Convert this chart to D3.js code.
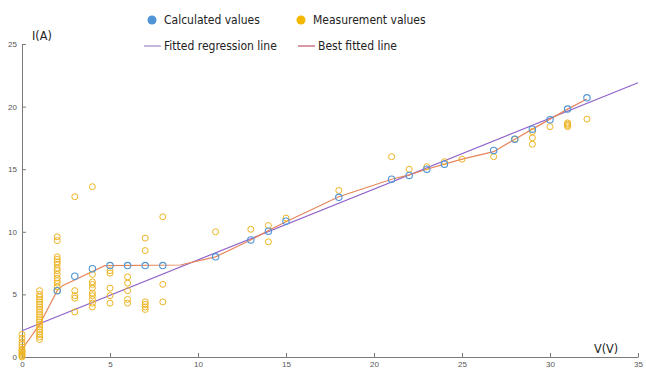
<!DOCTYPE html>
<html>
<head>
<meta charset="utf-8">
<script src="https://cdn.jsdelivr.net/npm/d3@7"></script>
<style>
  body { margin: 0; background: #fff; }
  svg { display: block; }
  .axis path, .axis line { stroke: #7a7a7a; }
  .axis text { fill: #555; font-family: "Liberation Sans", Arial, sans-serif; font-size: 8px; }
  .lbl { font-family: "Liberation Sans Narrow", "DejaVu Sans Condensed", "Liberation Sans", sans-serif; fill: #222; }
</style>
</head>
<body>
<div id="chart"></div>
<script>
// calculated values (blue)
var calcV = [2, 3, 4, 5, 6, 7, 8, 11, 13, 14, 15, 18, 21, 22, 23, 24, 26.8, 28, 29, 30, 31, 32.1];
var calcI = [5.3, 6.45, 7.05, 7.3, 7.3, 7.3, 7.3, 8.0, 9.35, 10.05, 10.85, 12.75, 14.2, 14.5, 15.0, 15.4, 16.5, 17.4, 18.2, 18.95, 19.8, 20.7];

// measurement values (yellow), grouped by voltage
var measV = [0, 1, 2, 3, 4, 5, 6, 7, 8, 11, 13, 14, 15, 18, 21, 22, 23, 24, 25, 26.8, 28, 29, 30, 31, 32.1];
var measI = [
    [0, 0.1, 0.2, 0.3, 0.4, 0.5, 0.6, 0.8, 1.0, 1.2, 1.5, 1.8],
    [1.4, 1.6, 1.8, 2.0, 2.2, 2.4, 2.6, 2.8, 3.0, 3.2, 3.4, 3.6, 3.8, 4.0, 4.2, 4.4, 4.6, 4.8, 5.0, 5.3],
    [5.3, 5.6, 5.9, 6.1, 6.3, 6.6, 6.9, 7.1, 7.4, 7.6, 7.8, 8.0, 9.3, 9.6],
    [3.6, 4.7, 4.9, 5.3, 12.8],
    [4.0, 4.3, 4.6, 4.9, 5.1, 5.5, 5.8, 6.0, 6.6, 13.6],
    [4.3, 4.9, 5.5, 6.7, 6.9],
    [4.3, 4.6, 5.3, 5.9, 6.4],
    [3.8, 4.0, 4.2, 4.4, 8.5, 9.5],
    [4.4, 5.8, 11.2],
    [10.0],
    [10.2],
    [9.2, 10.5],
    [11.1],
    [13.3],
    [16.0],
    [15.0],
    [15.2],
    [15.6],
    [15.8],
    [16.0],
    [17.4],
    [17.0, 17.5, 18.0],
    [18.4],
    [18.4, 18.5, 18.6, 18.7],
    [19.0]
];

// best fitted line (orange)
var bestV = [0, 1, 2, 2.3, 4.7, 9, 11, 13, 14, 15, 18, 21, 22, 23, 24, 25, 26.8, 28, 29, 30, 31, 32.1];
var bestI = [0.6, 2.6, 5.3, 5.7, 7.3, 7.35, 8.0, 9.35, 10.1, 10.8, 12.8, 14.2, 14.55, 15.0, 15.4, 15.8, 16.4, 17.4, 18.2, 19.0, 19.8, 20.6];

// fitted regression line (purple), end points
var regV = [0, 35];
var regI = [2.1, 21.9];

var xTicks = [0, 5, 10, 15, 20, 25, 30, 35];
var yTicks = [0, 5, 10, 15, 20, 25];

var w = 646, h = 370;
var svg = d3.select('#chart').append('svg').attr('width', w).attr('height', h);

var x = d3.scaleLinear().domain([0, 35]).range([22, 638]);
var y = d3.scaleLinear().domain([0, 25]).range([357, 44]);

var blue = '#4f95d6', yellow = '#eeb422', purple = '#8f62c9', orange = '#e6865c';

svg.append('g').attr('class', 'axis')
    .attr('transform', 'translate(0,' + y(0) + ')')
    .call(d3.axisBottom(x).tickValues(xTicks).tickSize(-4).tickSizeOuter(0).tickPadding(4.5));

svg.append('g').attr('class', 'axis')
    .attr('transform', 'translate(' + x(0) + ',0)')
    .call(d3.axisLeft(y).tickValues(yTicks).tickSize(-4).tickSizeOuter(0).tickPadding(5));

var line = d3.line().x(function (d) { return x(d[0]); }).y(function (d) { return y(d[1]); });

svg.append('path')
    .datum(d3.zip(regV, regI))
    .attr('d', line).attr('fill', 'none').attr('stroke', purple).attr('stroke-width', 1.2);

svg.append('path')
    .datum(d3.zip(bestV, bestI))
    .attr('d', line).attr('fill', 'none').attr('stroke', orange).attr('stroke-width', 1.2);

var meas = [];
measV.forEach(function (v, i) {
    measI[i].forEach(function (c) { meas.push([v, c]); });
});

svg.append('g').selectAll('circle')
    .data(meas).enter().append('circle')
    .attr('cx', function (d) { return x(d[0]); })
    .attr('cy', function (d) { return y(d[1]); })
    .attr('r', 3)
    .attr('fill', 'none').attr('stroke', yellow).attr('stroke-width', 1);

svg.append('g').selectAll('circle')
    .data(d3.zip(calcV, calcI)).enter().append('circle')
    .attr('cx', function (d) { return x(d[0]); })
    .attr('cy', function (d) { return y(d[1]); })
    .attr('r', 3.2)
    .attr('fill', 'none').attr('stroke', blue).attr('stroke-width', 1.1);

// axis labels
svg.append('text').attr('class', 'lbl').attr('x', 32).attr('y', 40).style('font-size', '12.5px').text('I(A)');
svg.append('text').attr('class', 'lbl').attr('x', 594).attr('y', 353).style('font-size', '12.5px').text('V(V)');

// legend
var legend = [
    { label: 'Calculated values', type: 'dot', color: blue, x: 152, y: 20 },
    { label: 'Measurement values', type: 'dot', color: '#f5b800', x: 301, y: 20 },
    { label: 'Fitted regression line', type: 'line', color: '#9c88c4', x: 144, y: 46 },
    { label: 'Best fitted line', type: 'line', color: '#c0566e', x: 298, y: 46 }
];

var lg = svg.selectAll('.legend').data(legend).enter().append('g').attr('class', 'legend');
lg.filter(function (d) { return d.type === 'dot'; })
    .append('circle')
    .attr('cx', function (d) { return d.x; }).attr('cy', function (d) { return d.y; })
    .attr('r', 4.5).attr('fill', function (d) { return d.color; });
lg.filter(function (d) { return d.type === 'line'; })
    .append('line')
    .attr('x1', function (d) { return d.x; }).attr('x2', function (d) { return d.x + 17; })
    .attr('y1', function (d) { return d.y; }).attr('y2', function (d) { return d.y; })
    .attr('stroke', function (d) { return d.color; }).attr('stroke-width', 1.2);
lg.append('text').attr('class', 'lbl')
    .attr('x', function (d) { return d.type === 'dot' ? d.x + 12 : d.x + 20; })
    .attr('y', function (d) { return d.y + 4; })
    .style('font-size', '12px')
    .text(function (d) { return d.label; });
</script>
</body>
</html>
